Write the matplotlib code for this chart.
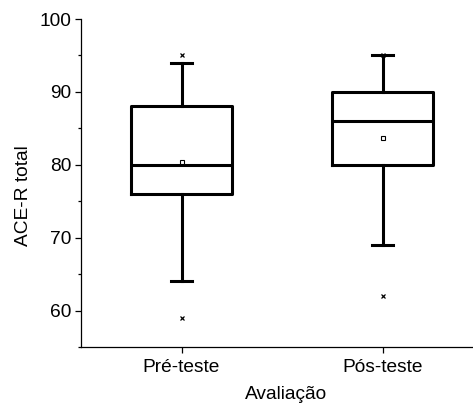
import matplotlib
matplotlib.use("Agg")
import matplotlib.pyplot as plt
from matplotlib.ticker import MultipleLocator

plt.rcParams["font.family"] = ["Liberation Sans", "DejaVu Sans"]

# values
groups = ["Pré-teste", "Pós-teste"]
q1 = [76, 80]
median = [80, 86]
q3 = [88, 90]
whisker_lo = [64, 69]
whisker_hi = [94, 95]
mean = [80.4, 83.7]
extremes = [[95, 59], [95, 62]]

stats = []
for i, name in enumerate(groups):
    stats.append({
        "label": name, "q1": q1[i], "med": median[i], "q3": q3[i],
        "whislo": whisker_lo[i], "whishi": whisker_hi[i],
        "mean": mean[i], "fliers": extremes[i],
    })

fig = plt.figure(figsize=(4.73, 4.05), dpi=100)
ax = fig.add_axes([81 / 473, 1 - 347 / 405, 402 / 473, 328 / 405])

lw = 2.2
ax.bxp(
    stats, positions=[1, 2], widths=0.5, showmeans=True, showfliers=True,
    boxprops=dict(color="black", linewidth=lw),
    medianprops=dict(color="black", linewidth=lw),
    whiskerprops=dict(color="black", linewidth=lw),
    capprops=dict(color="black", linewidth=lw),
    capwidths=0.1,
    meanprops=dict(marker="s", markersize=2.4, markerfacecolor="white",
                   markeredgecolor="black", markeredgewidth=0.8),
    flierprops=dict(marker="x", markersize=3, markeredgecolor="black",
                    markeredgewidth=0.9),
)

ax.set_xlim(0.5, 2.5)
ax.set_ylim(55, 100)
ax.yaxis.set_major_locator(MultipleLocator(10))
ax.yaxis.set_minor_locator(MultipleLocator(5))
ax.set_yticks([60, 70, 80, 90, 100])

for side in ("top", "right"):
    ax.spines[side].set_visible(False)
for side in ("left", "bottom"):
    ax.spines[side].set_linewidth(0.9)
ax.spines["left"].set_bounds(55, 100)

ax.tick_params(axis="y", which="major", length=4, width=0.9, labelsize=13.8, pad=3)
ax.tick_params(axis="y", which="minor", length=2.5, width=0.9)
ax.tick_params(axis="x", which="major", length=4, width=0.9, labelsize=13.8, pad=5)

ax.set_ylabel("ACE-R total", fontsize=13.8)
ax.set_xlabel("Avaliação", fontsize=13.8)
ax.yaxis.set_label_coords(-0.123, 0.46)
ax.xaxis.set_label_coords(0.51, -0.12)

fig.savefig("out.png", dpi=100)
